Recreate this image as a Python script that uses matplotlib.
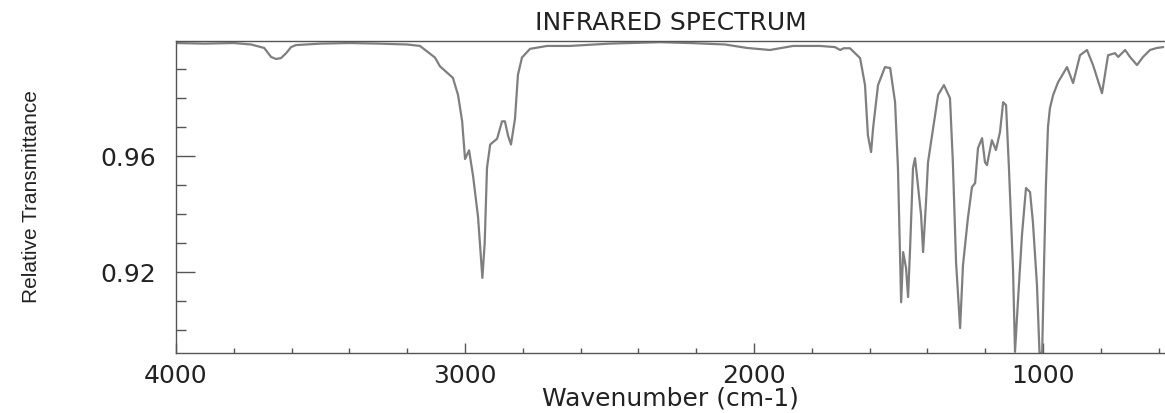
import matplotlib
matplotlib.use("Agg")
from matplotlib import pyplot as plt
from matplotlib.ticker import MultipleLocator, FixedLocator

# wavenumber (cm-1) and relative transmittance
wavenumber = [
    4000, 3900, 3800, 3740, 3695, 3671, 3654, 3637, 3619, 3602, 3585,
    3500, 3400, 3300, 3200, 3156, 3104, 3087, 3042, 3024, 3010, 3000,
    2986, 2972, 2955, 2940, 2932, 2924, 2913, 2889, 2872, 2862, 2851,
    2841, 2827, 2817, 2803, 2775, 2716, 2637, 2500, 2325, 2221, 2100,
    2024, 1945, 1865, 1772, 1720, 1702, 1690, 1668, 1633, 1616, 1606,
    1595, 1588, 1571, 1547, 1529, 1512, 1502, 1491, 1484, 1474, 1467,
    1460, 1450, 1443, 1433, 1422, 1415, 1405, 1398, 1384, 1363, 1343,
    1322, 1312, 1301, 1287, 1277, 1260, 1246, 1235, 1225, 1211, 1201,
    1194, 1177, 1163, 1149, 1138, 1128, 1118, 1104, 1097, 1087, 1073,
    1059, 1045, 1035, 1021, 1012, 1003, 996, 990, 983, 976, 965,
    948, 917, 896, 872, 848, 827, 796, 775, 751, 740, 716,
    699, 675, 654, 630, 606, 585,
]
transmittance = [
    0.9990, 0.9988, 0.9990, 0.9985, 0.9973, 0.9942, 0.9935, 0.9938, 0.9955, 0.9976, 0.9983,
    0.9988, 0.9990, 0.9988, 0.9985, 0.9980, 0.9940, 0.9910, 0.9870, 0.9810, 0.9720, 0.9590,
    0.9620, 0.9530, 0.9390, 0.9180, 0.9300, 0.9560, 0.9640, 0.9660, 0.9720, 0.9720, 0.9670,
    0.9640, 0.9730, 0.9880, 0.9940, 0.9970, 0.9980, 0.9980, 0.9988, 0.9993, 0.9990, 0.9985,
    0.9973, 0.9966, 0.9980, 0.9980, 0.9976, 0.9966, 0.9972, 0.9972, 0.9938, 0.9845, 0.9672,
    0.9614, 0.9697, 0.9845, 0.9907, 0.9904, 0.9786, 0.9559, 0.9096, 0.9269, 0.9214, 0.9114,
    0.9283, 0.9559, 0.9593, 0.9500, 0.9396, 0.9269, 0.9441, 0.9579, 0.9672, 0.9811, 0.9845,
    0.9800, 0.9579, 0.9234, 0.9007, 0.9224, 0.9386, 0.9493, 0.9507, 0.9628, 0.9662, 0.9579,
    0.9569, 0.9655, 0.9621, 0.9683, 0.9786, 0.9776, 0.9559, 0.9214, 0.8925, 0.9096, 0.9327,
    0.9490, 0.9476, 0.9372, 0.9155, 0.8915, 0.8925, 0.9250, 0.9500, 0.9700, 0.9766, 0.9811,
    0.9855, 0.9907, 0.9852, 0.9948, 0.9966, 0.9914, 0.9817, 0.9948, 0.9955, 0.9942, 0.9966,
    0.9942, 0.9914, 0.9942, 0.9966, 0.9973, 0.9976,
]

x_major = [4000, 3000, 2000, 1000]
y_major = [0.92, 0.96]

fig = plt.figure(figsize=(11.65, 4.13), dpi=100)
ax = fig.add_axes([0.1511, 0.1453, 0.8489, 0.7554])

ax.plot(wavenumber, transmittance, color='#7f7f7f', linewidth=1.6)

ax.set_xlim(4000, 578)
ax.set_ylim(0.8921, 0.9997)

ax.xaxis.set_major_locator(FixedLocator(x_major))
ax.xaxis.set_minor_locator(MultipleLocator(200))
ax.yaxis.set_major_locator(FixedLocator(y_major))
ax.yaxis.set_minor_locator(MultipleLocator(0.01))
ax.set_xticklabels([str(v) for v in x_major])
ax.set_yticklabels(['%.2f' % v for v in y_major])

ax.tick_params(axis='x', which='major', direction='in', length=7, width=1,
               color='#555555', labelsize=18, labelcolor='#222222', pad=8)
ax.tick_params(axis='x', which='minor', direction='in', length=3.6, width=1,
               color='#555555')
ax.tick_params(axis='y', which='major', direction='in', length=14, width=1,
               color='#555555', labelsize=18, labelcolor='#222222', pad=14)
ax.tick_params(axis='y', which='minor', direction='in', length=7, width=1,
               color='#555555')

for side in ['left', 'bottom', 'top']:
    ax.spines[side].set_color('#555555')
    ax.spines[side].set_linewidth(1)
ax.spines['right'].set_visible(False)

ax.set_title('INFRARED SPECTRUM', fontsize=18, color='#222222', pad=8)
ax.set_xlabel('Wavenumber (cm-1)', fontsize=18, color='#222222', labelpad=-1)
ax.set_ylabel('Relative Transmittance', fontsize=15, color='#222222',
              family='Liberation Sans')
ax.yaxis.set_label_coords(-0.137, 0.5)

fig.savefig('out.png', dpi=100)
